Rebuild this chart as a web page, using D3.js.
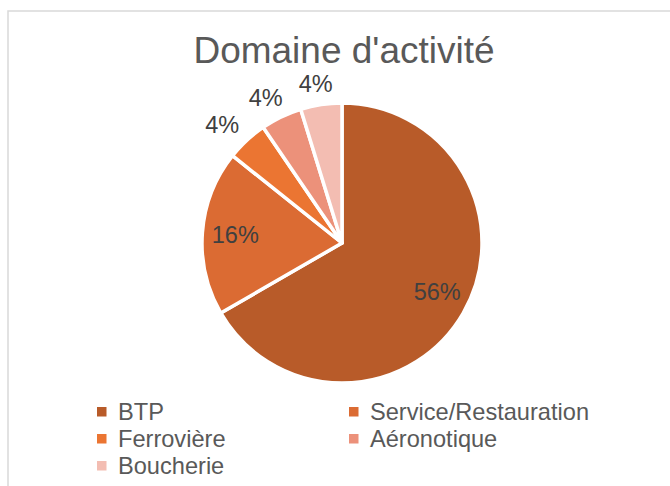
<!DOCTYPE html>
<html>
<head>
<meta charset="utf-8">
<script src="https://cdn.jsdelivr.net/npm/d3@7/dist/d3.min.js"></script>
<style>
  html, body { margin: 0; padding: 0; background: #ffffff; }
  svg { display: block; font-family: "Liberation Sans", Arial, sans-serif; }
</style>
</head>
<body>
<svg id="chart" width="670" height="486"></svg>
<script>
// Domaine d'activité — répartition
const categories = ["BTP", "Service/Restauration", "Ferrovière", "Aéronotique", "Boucherie"];
const values = [56, 16, 4, 4, 4];
const labels = ["56%", "16%", "4%", "4%", "4%"];
const colors = ["#b85b29", "#db6b33", "#eb7532", "#ec917a", "#f3bdb2"];
const insideLabel = [true, true, false, false, false];
const title = "Domaine d'activité";

const svg = d3.select("#chart");
const W = 670, H = 486;

// chart frame (top and left edges visible)
svg.append("path")
  .attr("d", `M8,${H} L8,11 L${W},11`)
  .attr("fill", "none")
  .attr("stroke", "#d9d9d9")
  .attr("stroke-width", 1.5);

svg.append("text")
  .attr("x", 344)
  .attr("y", 63)
  .attr("text-anchor", "middle")
  .attr("font-size", 37)
  .attr("fill", "#595959")
  .text(title);

const cx = 342, cy = 243, R = 140;
const g = svg.append("g").attr("transform", `translate(${cx},${cy})`);

const pie = d3.pie().sort(null).value(d => d)(values);
const arc = d3.arc().innerRadius(0).outerRadius(R);

g.selectAll("path.slice")
  .data(pie)
  .join("path")
  .attr("class", "slice")
  .attr("d", arc)
  .attr("fill", (d, i) => colors[i])
  .attr("stroke", "#ffffff")
  .attr("stroke-width", 3.5)
  .attr("stroke-linejoin", "round");

// label anchor: inside labels on a circle, outside labels on an ellipse
// so that the text box clears the rim
function labelPos(d, i) {
  const a = (d.startAngle + d.endAngle) / 2 - 0.05 * (insideLabel[i] && i === 0 ? 1 : 0);
  const sx = Math.sin(a), sy = -Math.cos(a);
  if (insideLabel[i]) return [107 * sx, 107 * sy];
  return [176 * sx, 161 * sy];
}

g.selectAll("text.lbl")
  .data(pie)
  .join("text")
  .attr("class", "lbl")
  .attr("transform", (d, i) => {
    const c = labelPos(d, i);
    return `translate(${c[0]},${c[1]})`;
  })
  .attr("text-anchor", "middle")
  .attr("dy", "0.35em")
  .attr("font-size", 23.5)
  .attr("fill", "#404040")
  .text((d, i) => labels[i]);

// legend: two columns
const legX = [97, 349], legY0 = 411.5, legDy = 27;
const leg = svg.append("g");
categories.forEach((c, i) => {
  const col = i % 2, row = Math.floor(i / 2);
  const x = legX[col], y = legY0 + row * legDy;
  leg.append("rect")
    .attr("x", x).attr("y", y - 4.5)
    .attr("width", 9.5).attr("height", 9.5)
    .attr("fill", colors[i]);
  leg.append("text")
    .attr("x", x + 21).attr("y", y)
    .attr("dy", "0.35em")
    .attr("font-size", 23.6)
    .attr("fill", "#595959")
    .text(c);
});
</script>
</body>
</html>
